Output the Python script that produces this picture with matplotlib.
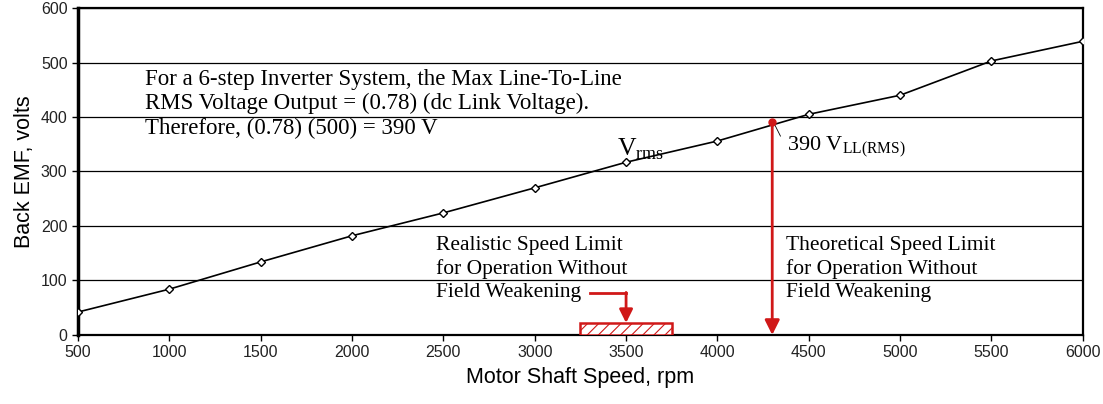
import matplotlib.pyplot as plt
from matplotlib.patches import Rectangle

# data
speed = [500, 1000, 1500, 2000, 2500, 3000, 3500, 4000, 4500, 5000, 5500, 6000]
emf = [42, 84, 134, 182, 224, 270, 317, 356, 405, 440, 503, 539]
limit_speed = 4300
limit_volts = 390
realistic_lo, realistic_hi = 3250, 3750
realistic_h = 22
yticks = [0, 100, 200, 300, 400, 500, 600]
xticks = [500, 1000, 1500, 2000, 2500, 3000, 3500, 4000, 4500, 5000, 5500, 6000]

red = '#d01818'
serif = 'Liberation Serif'
sans = 'Liberation Sans'
plt.rcParams['hatch.color'] = red
plt.rcParams['hatch.linewidth'] = 0.8

fig = plt.figure(figsize=(11.03, 4.04), dpi=100)
ax = fig.add_axes([0.0707, 0.171, 0.911, 0.809])

ax.plot(speed, emf, color='black', lw=1.2, marker='D', ms=4.5,
        mfc='white', mec='black', mew=1.0, zorder=3)

ax.set_xlim(500, 6000)
ax.set_ylim(0, 600)
ax.set_xticks(xticks)
ax.set_yticks(yticks)
ax.yaxis.grid(True, color='black', lw=0.9)
ax.set_axisbelow(True)
for s in ax.spines.values():
    s.set_color('black')
    s.set_linewidth(1.6)
ax.spines['left'].set_linewidth(2.5)
ax.tick_params(labelsize=11.5, length=4, width=1, labelcolor='#222222')
for lab in ax.get_xticklabels() + ax.get_yticklabels():
    lab.set_family(sans)
ax.set_xlabel('Motor Shaft Speed, rpm', fontsize=15.5, family=sans, labelpad=5)
ax.set_ylabel('Back EMF, volts', fontsize=15.5, family=sans, labelpad=4)

fs = 15.5
ls = 1.27
# explanation text
ax.text(867, 424, 'For a 6-step Inverter System, the Max Line-To-Line\n'
        'RMS Voltage Output = (0.78) (dc Link Voltage).\n'
        'Therefore, (0.78) (500) = 390 V',
        family=serif, fontsize=16.5, va='center', ha='left', linespacing=1.2)
ax.text(3450, 340, r'V$_{\mathregular{rms}}$', family=serif, fontsize=18.5,
        va='center', ha='left')

# theoretical limit arrow
ax.annotate('', xy=(limit_speed, 0), xytext=(limit_speed, limit_volts),
            arrowprops=dict(arrowstyle='-|>', color=red, lw=2,
                            mutation_scale=22, shrinkA=0, shrinkB=0))
ax.plot([limit_speed], [limit_volts], 'o', color=red, ms=5, zorder=4)
ax.plot([limit_speed + 15, limit_speed + 45], [limit_volts - 5, limit_volts - 25],
        color='black', lw=0.6)
ax.text(4380, 345, r'390 V$_{\mathregular{LL(RMS)}}$', family=serif,
        fontsize=16, va='center', ha='left')
ax.text(4375, 121, 'Theoretical Speed Limit\nfor Operation Without\nField Weakening',
        family=serif, fontsize=fs, va='center', ha='left', linespacing=ls)

# realistic limit
ax.add_patch(Rectangle((realistic_lo, 0), realistic_hi - realistic_lo, realistic_h,
                       facecolor='white', edgecolor=red, hatch='///', lw=1.8,
                       zorder=4))
ax.text(2459, 121, 'Realistic Speed Limit\nfor Operation Without\nField Weakening',
        family=serif, fontsize=fs, va='center', ha='left', linespacing=ls)
ax.plot([3300, 3500], [77, 77], color=red, lw=2)
ax.annotate('', xy=(3500, realistic_h), xytext=(3500, 78),
            arrowprops=dict(arrowstyle='-|>', color=red, lw=2,
                            mutation_scale=20, shrinkA=0, shrinkB=0))

fig.savefig('out.png', dpi=100)
